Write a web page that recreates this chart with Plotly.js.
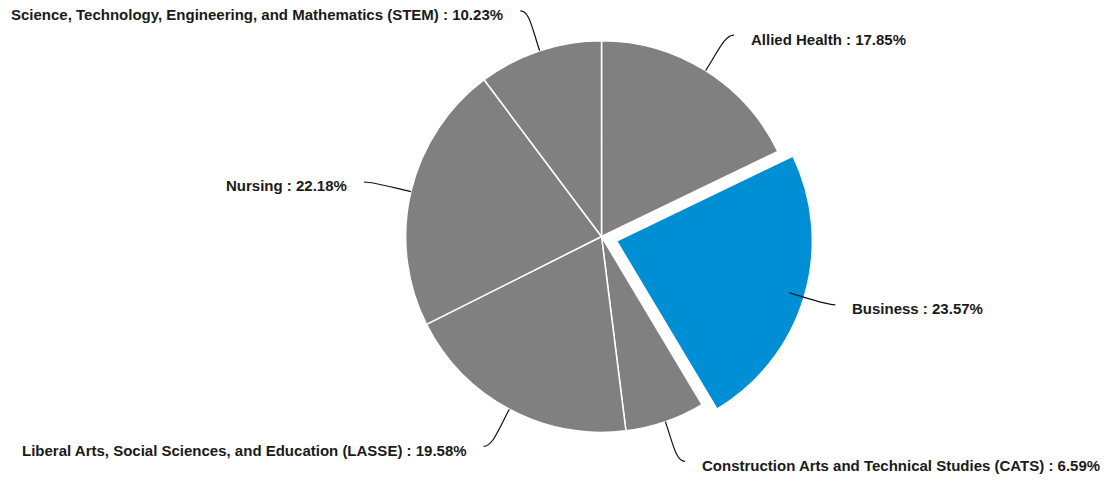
<!DOCTYPE html>
<html>
<head>
<meta charset="utf-8">
<script src="https://cdn.plot.ly/plotly-3.0.1.min.js"></script>
<style>html,body{margin:0;padding:0;background:#fff;}#chart{width:1110px;height:481px;}</style>
</head>
<body>
<div id="chart"></div>
<script>
var categories = [
  "Allied Health",
  "Business",
  "Construction Arts and Technical Studies (CATS)",
  "Liberal Arts, Social Sciences, and Education (LASSE)",
  "Nursing",
  "Science, Technology, Engineering, and Mathematics (STEM)"
];
var shares = [17.85, 23.57, 6.59, 19.58, 22.18, 10.23];
var pulls = [0, 0.08, 0, 0, 0, 0];
var sliceColors = ["#808080", "#008fd5", "#808080", "#808080", "#808080", "#808080"];

var W = 1110, H = 481;
var domX = [0.0838, 1], domY = [33 / 481, 1 - 25 / 481];

// geometry used by plotly for the pie (margins are 0)
var boxW = W * (domX[1] - domX[0]), boxH = H * (domY[1] - domY[0]);
var maxPull = Math.max.apply(null, pulls);
var R = Math.min(boxW / 2, boxH / 2) / (1 + maxPull);
var CX = W * (domX[0] + domX[1]) / 2;
var CY = H * (1 - domY[0]) - boxH / 2;

function px(x) { return x / W; }
function py(y) { return 1 - y / H; }

var total = shares.reduce(function (a, b) { return a + b; }, 0);
var annotations = [], shapes = [];
var cum = 0;
var ext = 42;
for (var i = 0; i < shares.length; i++) {
  var mid = (cum + shares[i] / 2) / total * 2 * Math.PI;
  cum += shares[i];
  var s = Math.sin(mid), c = Math.cos(mid);
  var side = s >= 0 ? 1 : -1;
  var x0 = CX + R * s, y0 = CY - R * c;
  var xe = CX + (R + ext) * s, ye = CY - (R + ext) * c;
  var x1 = CX + (R + ext * 0.6) * s, y1 = CY - (R + ext * 0.6) * c;
  var x2 = xe - side * 3, y2 = ye;
  var x3 = xe + side * 6, y3 = ye;
  var path = "M " + px(x0) + "," + py(y0) + " C " + px(x1) + "," + py(y1) + " " +
    px(x2) + "," + py(y2) + " " + px(x3) + "," + py(y3);
  shapes.push({type: "path", xref: "paper", yref: "paper", path: path,
    line: {color: "#111", width: 1.2}});
  annotations.push({
    xref: "paper", yref: "paper",
    x: px(xe + side * 21), y: py(ye + 4),
    xanchor: side > 0 ? "left" : "right", yanchor: "middle",
    showarrow: false,
    text: categories[i] + " : " + shares[i].toFixed(2) + "%",
    font: {family: "Liberation Sans, Arial, sans-serif", size: 15, color: "#1a1a1a", weight: "bold"}
  });
}

var trace = {
  type: "pie",
  labels: categories,
  values: shares,
  sort: false,
  direction: "clockwise",
  rotation: 0,
  pull: pulls,
  marker: {colors: sliceColors, line: {color: "#ffffff", width: 1.5}},
  textinfo: "none",
  hoverinfo: "label+percent",
  domain: {x: domX, y: domY}
};

var layout = {
  width: W, height: H,
  margin: {l: 0, r: 0, t: 0, b: 0},
  showlegend: false,
  paper_bgcolor: "#ffffff",
  plot_bgcolor: "#ffffff",
  annotations: annotations,
  shapes: shapes
};

Plotly.newPlot("chart", [trace], layout, {displayModeBar: false, staticPlot: true});
</script>
</body>
</html>
